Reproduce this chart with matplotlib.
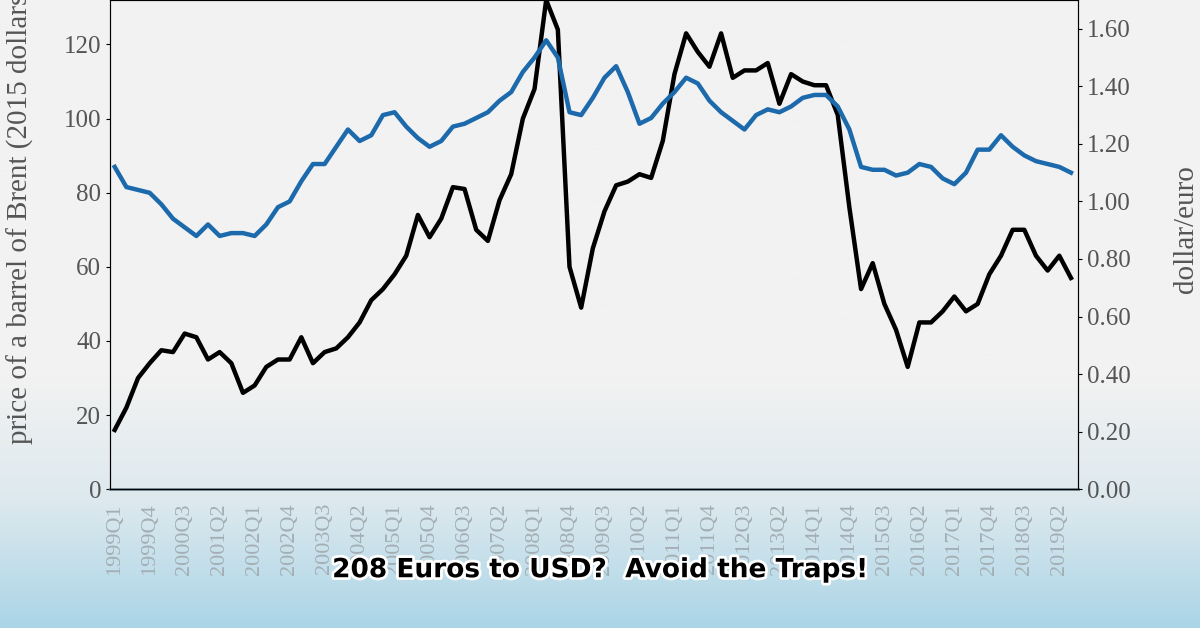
import numpy as np
import matplotlib.pyplot as plt
import matplotlib.patheffects as pe
from matplotlib.colors import LinearSegmentedColormap

# quarterly data, 1999Q1 .. 2019Q3
brent = [16, 22, 30, 34, 37.5, 37, 42, 41, 35, 37, 34, 26, 28, 33, 35, 35, 41, 34, 37, 38,
         41, 45, 51, 54, 58, 63, 74, 68, 73, 81.5, 81, 70, 67, 78, 85, 100, 108, 132, 124, 60,
         49, 65, 75, 82, 83, 85, 84, 94, 112, 123, 118, 114, 123, 111, 113, 113, 115, 104, 112, 110,
         109, 109, 101, 76, 54, 61, 50, 43, 33, 45, 45, 48, 52, 48, 50, 58, 63, 70, 70, 63,
         59, 63, 57]
usd_eur = [1.12, 1.05, 1.04, 1.03, 0.99, 0.94, 0.91, 0.88, 0.92, 0.88, 0.89, 0.89, 0.88, 0.92, 0.98, 1.00, 1.07, 1.13, 1.13, 1.19,
           1.25, 1.21, 1.23, 1.30, 1.31, 1.26, 1.22, 1.19, 1.21, 1.26, 1.27, 1.29, 1.31, 1.35, 1.38, 1.45, 1.50, 1.56, 1.50, 1.31,
           1.30, 1.36, 1.43, 1.47, 1.38, 1.27, 1.29, 1.34, 1.38, 1.43, 1.41, 1.35, 1.31, 1.28, 1.25, 1.30, 1.32, 1.31, 1.33, 1.36,
           1.37, 1.37, 1.33, 1.25, 1.12, 1.11, 1.11, 1.09, 1.10, 1.13, 1.12, 1.08, 1.06, 1.10, 1.18, 1.18, 1.23, 1.19, 1.16, 1.14,
           1.13, 1.12, 1.10]
quarters = [f"{1999 + i // 4}Q{i % 4 + 1}" for i in range(len(brent))]

plt.rcParams['font.family'] = ['Liberation Serif', 'DejaVu Serif']
fig = plt.figure(figsize=(12, 6.28), dpi=100)

# background gradient
bg = fig.add_axes([0, 0, 1, 1], zorder=0)
cmap = LinearSegmentedColormap.from_list('bg', [(0, '#f2f2f2'), (0.6, '#f2f2f2'), (0.8, '#dde9ee'), (1, '#abd5e7')])
bg.imshow(np.linspace(0, 1, 256).reshape(-1, 1), aspect='auto', cmap=cmap, extent=[0, 1, 0, 1])
bg.axis('off')

ax = fig.add_axes([0.0917, 0.221, 0.8066, 0.779], zorder=1)
ax.patch.set_alpha(0)
x = np.arange(len(brent))
ax.plot(x, brent, color='black', lw=3.2)
ax.set_ylim(0, 132)
ax.set_xlim(-0.4, 82.6)
ax.set_yticks(range(0, 121, 20))
ax.set_xticks(x[::3])
ax.set_xticklabels(quarters[::3], rotation=90, color='#a3afb4', fontsize=16)
ax.tick_params(axis='y', labelsize=18, labelcolor='#555555', length=3)
ax.tick_params(axis='x', length=0, pad=10)
for s in ax.spines.values():
    s.set_color('#333333')
ax.spines['bottom'].set_color('#6f8a96')
ax.spines['bottom'].set_linewidth(2)

ax2 = ax.twinx()
ax2.plot(x, usd_eur, color='#1c6aab', lw=3.2)
ax2.set_ylim(0, 1.70)
ax2.set_yticks(np.arange(0, 1.61, 0.2))
ax2.set_yticklabels([f"{v:.2f}" for v in np.arange(0, 1.61, 0.2)])
ax2.tick_params(axis='y', labelsize=18, labelcolor='#555555', length=3)

fig.text(0.017, 0.66, 'price of a barrel of Brent (2015 dollars)', rotation=90,
         ha='center', va='center', fontsize=21, color='#555555')
fig.text(0.988, 0.635, 'dollar/euro', rotation=90, ha='center', va='center',
         fontsize=21, color='#555555')

fig.text(0.5, 0.092, '208 Euros to USD?  Avoid the Traps!', ha='center', va='center',
         fontsize=19, fontweight='bold', family='DejaVu Sans', color='black',
         path_effects=[pe.withStroke(linewidth=4, foreground='white')])

fig.savefig('out.png', dpi=100)
